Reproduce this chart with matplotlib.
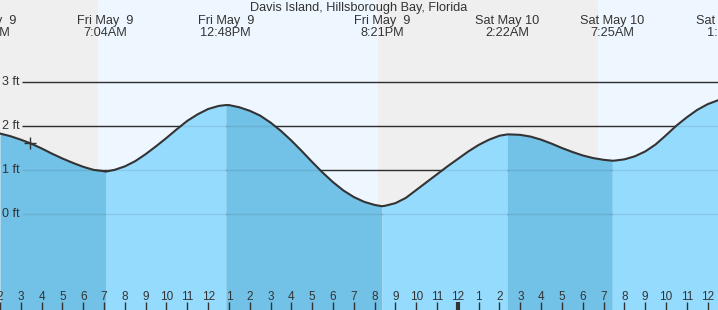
import matplotlib
matplotlib.use('Agg')
import matplotlib.pyplot as plt
from matplotlib.transforms import blended_transform_factory

plt.rcParams['font.family'] = ['Liberation Sans', 'DejaVu Sans']

# horas contadas a partir de sex 9 de maio 00:00 (de meia em meia hora)
horas = [2, 2.5, 3, 3.5, 4, 4.5, 5, 5.5, 6, 6.5, 7, 7.5, 8, 8.5, 9, 9.5, 10, 10.5,
         11, 11.5, 12, 12.5, 13, 13.5, 14, 14.5, 15, 15.5, 16, 16.5, 17, 17.5,
         18, 18.5, 19, 19.5, 20, 20.5, 21, 21.5, 22, 22.5, 23, 23.5, 24, 24.5,
         25, 25.5, 26, 26.5, 27, 27.5, 28, 28.5, 29, 29.5, 30, 30.5, 31, 31.5,
         32, 32.5, 33, 33.5, 34, 34.5, 35, 35.5, 36, 36.5]
altura = [1.83, 1.77, 1.69, 1.60, 1.49, 1.37, 1.26, 1.16, 1.07, 1.00, 0.97, 1.00,
          1.08, 1.20, 1.36, 1.54, 1.73, 1.93, 2.12, 2.27, 2.39, 2.46, 2.48, 2.43,
          2.35, 2.24, 2.08, 1.89, 1.67, 1.43, 1.18, 0.94, 0.72, 0.53, 0.38, 0.27,
          0.20, 0.18, 0.24, 0.36, 0.54, 0.72, 0.90, 1.08, 1.25, 1.42, 1.57, 1.69,
          1.78, 1.81, 1.80, 1.76, 1.69, 1.60, 1.50, 1.41, 1.33, 1.27, 1.23, 1.21,
          1.24, 1.31, 1.42, 1.58, 1.79, 2.01, 2.20, 2.37, 2.50, 2.59]

# mares altas e baixas
ev_horas = [1.43, 7.07, 12.85, 20.35, 26.37, 31.42, 37.0]
ev_altura = [1.85, 0.96, 2.48, 0.17, 1.81, 1.21, 2.70]
ev_rotulos = ['Fri May  9\n1:26AM', 'Fri May  9\n7:04AM', 'Fri May  9\n12:48PM',
              'Fri May  9\n8:21PM', 'Sat May 10\n2:22AM', 'Sat May 10\n7:25AM',
              'Sat May 10\n1:00PM']

# periodos de dia (nascer / por do sol)
dia = [(6.73, 20.15), (30.73, 38.0)]

# posicao atual
agora_h = 3.46
agora_alt = 1.62

niveis = [0, 1, 2, 3]
x0, x1 = 2.0, 36.5
y0, y1 = -2.2, 4.88

fig = plt.figure(figsize=(7.18, 3.10), dpi=100)
ax = fig.add_axes([0, 0, 1, 1])
ax.set_xlim(x0, x1)
ax.set_ylim(y0, y1)
ax.axis('off')
ax.add_patch(plt.Rectangle((0, 0), 1, 1, transform=ax.transAxes, color='#efefef', zorder=0))
for a, b in dia:
    ax.axvspan(a, b, color='#eef7ff', lw=0, zorder=0.5)

# junta pontos lidos com os extremos
pts = sorted(list(zip(horas, altura)) +
             [(h, v) for h, v in zip(ev_horas, ev_altura) if x0 < h < x1])
xs = [p[0] for p in pts]
ys = [p[1] for p in pts]

ax.hlines(niveis, x0 + 22 / 20.81, x1, color='#333333', lw=1, zorder=1)

for i in range(len(ev_horas) - 1):
    a, b = ev_horas[i], ev_horas[i + 1]
    cor = '#72c1e6' if ev_altura[i] > ev_altura[i + 1] else '#95dbfd'
    mask = [(a <= x <= b) for x in xs]
    ax.fill_between(xs, y0, ys, where=mask, color=cor, lw=0, zorder=2)

ax.hlines(niveis, x0 + 22 / 20.81, x1, color='black', alpha=0.08, lw=1, zorder=3)
ax.plot(xs, ys, color='#333333', lw=1.5, zorder=4)
ax.plot(agora_h, agora_alt, marker='+', ms=9, mew=1, color='#333333', zorder=5)

for n in niveis:
    ax.text(0.003, n, '%d ft' % n, transform=blended_transform_factory(ax.transAxes, ax.transData),
            ha='left', va='center', fontsize=9, color='#333333', zorder=6)

tb = blended_transform_factory(ax.transData, ax.transAxes)
for h in range(2, 37):
    rot = (h - 1) % 12 + 1
    ax.text(h, 1 - 300 / 310, str(rot), transform=tb, ha='center', va='baseline',
            fontsize=8.5, color='#333333')
    ax.plot([h, h], [0, 8 / 310], transform=tb, color='#333333',
            lw=3 if h == 24 else 1, solid_capstyle='butt')

for h, r in zip(ev_horas, ev_rotulos):
    l1, l2 = r.split('\n')
    ax.text(h, 1 - 24 / 310, l1, transform=tb, ha='center', va='baseline',
            fontsize=9.2, color='#333333', clip_on=False)
    ax.text(h, 1 - 36 / 310, l2, transform=tb, ha='center', va='baseline',
            fontsize=9.2, color='#333333', clip_on=False)

ax.text(0.5, 1 - 11 / 310, 'Davis Island, Hillsborough Bay, Florida', transform=ax.transAxes,
        ha='center', va='baseline', fontsize=9.2, color='#333333')

plt.savefig('out.png', dpi=100)
